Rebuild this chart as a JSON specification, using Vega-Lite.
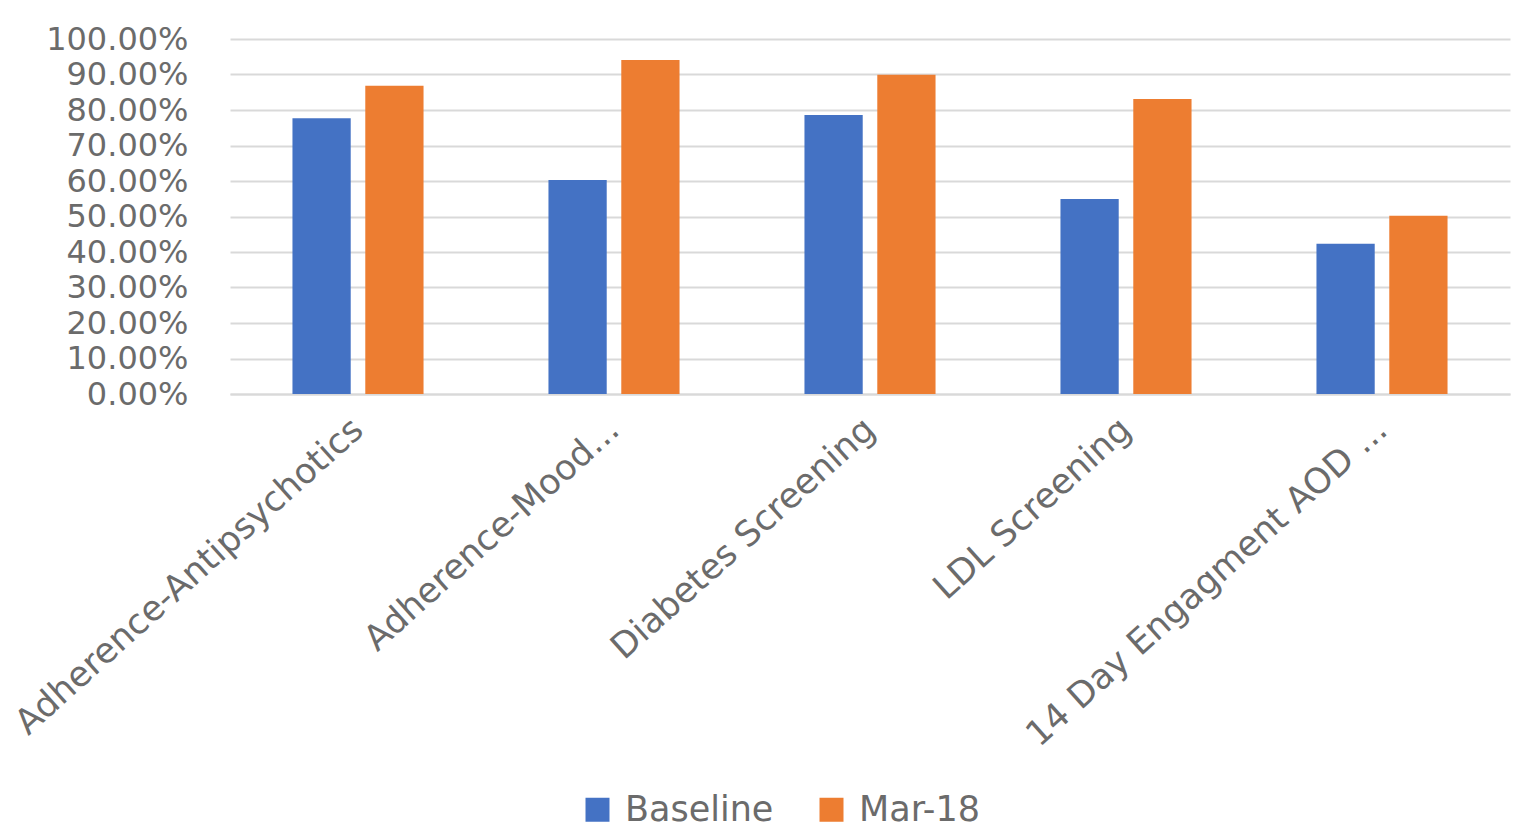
{
  "$schema": "https://vega.github.io/schema/vega-lite/v6.json",
  "width": 1280,
  "height": 355,
  "autosize": {"type": "none"},
  "padding": {"left": 230, "top": 39, "right": 21, "bottom": 437},
  "background": "white",
  "config": {
    "view": {"stroke": null},
    "font": "DejaVu Sans"
  },
  "data": {
    "values": [
      {"measure": "Adherence-Antipsychotics", "series": "Baseline", "value": 0.777},
      {"measure": "Adherence-Antipsychotics", "series": "Mar-18", "value": 0.868},
      {"measure": "Adherence-Mood...", "series": "Baseline", "value": 0.603},
      {"measure": "Adherence-Mood...", "series": "Mar-18", "value": 0.941},
      {"measure": "Diabetes Screening", "series": "Baseline", "value": 0.786},
      {"measure": "Diabetes Screening", "series": "Mar-18", "value": 0.899},
      {"measure": "LDL Screening", "series": "Baseline", "value": 0.549},
      {"measure": "LDL Screening", "series": "Mar-18", "value": 0.831},
      {"measure": "14 Day Engagment AOD ...", "series": "Baseline", "value": 0.423},
      {"measure": "14 Day Engagment AOD ...", "series": "Mar-18", "value": 0.502}
    ]
  },
  "mark": {"type": "bar"},
  "encoding": {
    "x": {
      "field": "measure",
      "type": "nominal",
      "sort": null,
      "scale": {"paddingInner": 0.488, "paddingOuter": 0.244},
      "axis": {
        "title": null,
        "labelAngle": -42,
        "labelAlign": "right",
        "labelBaseline": "middle",
        "labelFontSize": 35,
        "labelColor": "#6b6b6b",
        "labelPadding": 30,
        "ticks": false,
        "domain": true,
        "domainColor": "#d9d9d9",
        "domainWidth": 2,
        "labelLimit": 0
      }
    },
    "xOffset": {
      "field": "series",
      "type": "nominal",
      "scale": {"paddingInner": 0.2, "paddingOuter": 0}
    },
    "y": {
      "field": "value",
      "type": "quantitative",
      "scale": {"domain": [0, 1], "nice": false},
      "axis": {
        "title": null,
        "format": ".2%",
        "values": [0, 0.1, 0.2, 0.3, 0.4, 0.5, 0.6, 0.7, 0.8, 0.9, 1],
        "labelFontSize": 32,
        "labelColor": "#6b6b6b",
        "labelPadding": 42,
        "ticks": false,
        "domain": false,
        "grid": true,
        "gridColor": "#d9d9d9",
        "gridWidth": 2
      }
    },
    "color": {
      "field": "series",
      "type": "nominal",
      "scale": {"domain": ["Baseline", "Mar-18"], "range": ["#4472C4", "#ED7D31"]},
      "legend": {
        "title": null,
        "orient": "none",
        "direction": "horizontal",
        "legendX": 350,
        "legendY": 753,
        "symbolType": "square",
        "symbolSize": 576,
        "symbolStrokeWidth": 0,
        "labelFontSize": 35,
        "labelColor": "#6b6b6b",
        "labelOffset": 10,
        "columnPadding": 40
      }
    }
  }
}
